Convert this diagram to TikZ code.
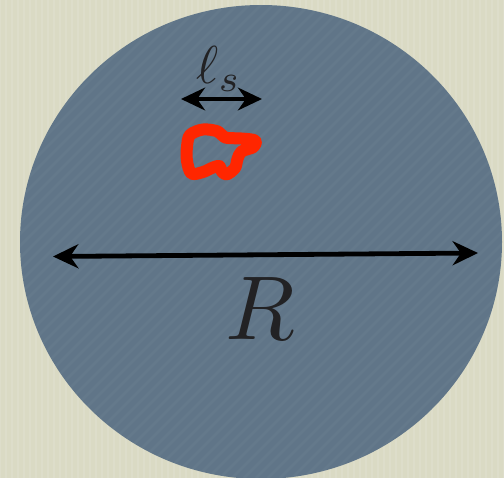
\documentclass[tikz,border=0pt]{standalone}
\usetikzlibrary{arrows.meta}
\definecolor{bgbeige}{RGB}{218,218,196}
\definecolor{slate}{RGB}{96,117,136}
\definecolor{blobred}{RGB}{255,38,0}
\definecolor{labelgray}{RGB}{34,34,36}
\tikzset{
  dimarrow/.style={black, line width=3.6pt, {Stealth[length=19pt,width=18pt]}-{Stealth[length=19pt,width=18pt]}},
  smallarrow/.style={black, line width=3.3pt, {Stealth[length=18pt,width=17pt]}-{Stealth[length=18pt,width=17pt]}},
  blob/.style={blobred, line width=9pt, line join=round}
}
\begin{document}
\begin{tikzpicture}[x=0.75pt,y=-0.75pt]
  \useasboundingbox (0,0) rectangle (504,478);
  \fill[bgbeige] (0,0) rectangle (504,478);
  \foreach \i in {0,6,...,504} {
    \draw[white, opacity=0.10, line width=1.2pt] (\i,0) -- (\i,478);
  }
  \begin{scope}
    \clip (0,0) rectangle (504,478);
    \fill[slate] (261,242) ellipse [x radius=241, y radius=237];
    \clip (261,242) ellipse [x radius=241, y radius=237];
    \foreach \i in {-500,-488,...,520} {
      \draw[white, opacity=0.03, line width=2pt] (\i,478) -- (\i+478,0);
    }
  \end{scope}
  % big dimension arrow
  \coordinate (bigL) at (53,256.5);
  \coordinate (bigR) at (478,253);
  \draw[dimarrow] (bigL) -- (bigR);
  \node[labelgray, inner sep=0pt] (R) at (260,309) {\scalebox{6.8}{$R$}};
  % small dimension arrow
  \coordinate (smL) at (181,99);
  \coordinate (smR) at (262,99);
  \draw[smallarrow] (smL) -- (smR);
  \node[labelgray, inner sep=0pt] (ls) at (219,69) {\scalebox{4}{$\ell_s$}};
  % red blob
  \draw[blob] plot[smooth cycle, tension=0.55] coordinates {
    (190,135) (203,129.5) (218,131.5) (225,137.5) (241.5,138.5) (255,140.5)
    (253.5,147) (241.5,151.5) (237.5,159) (235,168) (226.5,174.5)
    (221.5,171) (219.5,166) (213,167.5) (203,172) (191.5,173.5)
    (187,161) (187,147)
  };
\end{tikzpicture}
\end{document}
